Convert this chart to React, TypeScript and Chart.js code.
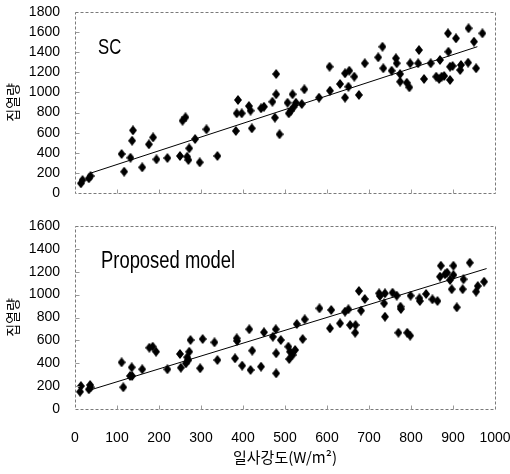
import React, { useEffect, useRef } from "react";
import { Chart, registerables } from "chart.js";

Chart.register(...registerables);

// ---------- data ----------
const xTickValues = [0, 100, 200, 300, 400, 500, 600, 700, 800, 900, 1000];

const scX = [14, 18, 33, 37, 111, 117, 132, 136, 138, 160, 176, 186, 194, 220, 250, 256, 263, 267, 272, 270, 286, 297, 313, 339, 383, 388, 385, 397, 414, 418, 421, 443, 450, 470, 476, 479, 479, 487, 506, 509, 514, 518, 521, 526, 540, 546, 581, 606, 607, 631, 643, 643, 653, 651, 665, 676, 690, 722, 732, 734, 754, 764, 766, 774, 774, 790, 796, 798, 817, 819, 831, 847, 860, 867, 873, 869, 879, 889, 888, 893, 893, 899, 907, 917, 919, 937, 936, 950, 955, 970];
const scY = [96, 129, 146, 169, 388, 212, 351, 520, 623, 255, 484, 553, 335, 348, 368, 719, 753, 361, 444, 328, 537, 305, 633, 368, 617, 925, 792, 792, 865, 819, 643, 842, 858, 908, 749, 1183, 982, 584, 898, 792, 819, 982, 858, 898, 885, 1031, 948, 1256, 1017, 1084, 1190, 948, 1216, 1057, 1157, 975, 1290, 1349, 1455, 1240, 1216, 1340, 1290, 1183, 1107, 1097, 1051, 1290, 1290, 1422, 1134, 1290, 1157, 1134, 1157, 1323, 1164, 1405, 1588, 1124, 1256, 1263, 1538, 1223, 1273, 1638, 1296, 1505, 1240, 1588];
const scTrendX = [36, 958];
const scTrendY = [196, 1455];

const pmX = [12, 14, 33, 36, 37, 111, 115, 131, 135, 136, 160, 177, 185, 193, 220, 250, 252, 264, 267, 272, 275, 270, 298, 304, 332, 339, 381, 385, 386, 398, 415, 418, 422, 443, 450, 471, 478, 479, 479, 490, 508, 512, 510, 518, 524, 528, 542, 547, 582, 607, 610, 631, 643, 651, 655, 668, 667, 676, 681, 690, 724, 726, 736, 738, 738, 756, 766, 770, 775, 776, 791, 798, 799, 820, 821, 836, 851, 863, 869, 871, 881, 886, 893, 897, 901, 901, 909, 923, 925, 940, 955, 959, 974];
const pmY = [151, 201, 172, 210, 190, 408, 190, 289, 364, 289, 347, 536, 545, 501, 347, 481, 361, 399, 452, 501, 603, 428, 356, 612, 583, 428, 443, 618, 595, 379, 697, 341, 510, 370, 671, 632, 697, 487, 312, 603, 545, 501, 437, 472, 516, 743, 612, 784, 880, 705, 866, 749, 851, 872, 734, 734, 667, 1032, 860, 962, 1011, 988, 924, 807, 1011, 1017, 991, 667, 895, 874, 667, 641, 991, 968, 944, 1006, 959, 944, 1157, 1253, 1178, 1192, 1128, 1047, 1253, 1172, 889, 1047, 1134, 1279, 1026, 1075, 1113];
const pmTrendX = [36, 980];
const pmTrendY = [166, 1228];

const scYMax = 1800;
const pmYMax = 1600;
const yStep = 200;
const scLabel = "SC";
const pmLabel = "Proposed model";
const yTitle = "집열량";
const xTitle = "일사강도(W/m²)";

// ---------- helpers ----------
function makeDiamond() {
  const c = document.createElement("canvas");
  c.width = 8;
  c.height = 10;
  const g = c.getContext("2d")!;
  g.fillStyle = "#000";
  g.beginPath();
  g.moveTo(4, 0);
  g.lineTo(8, 5);
  g.lineTo(4, 10);
  g.lineTo(0, 5);
  g.closePath();
  g.fill();
  return c;
}

const framePlugin = {
  id: "frame",
  afterDraw(chart: any, _args: any, opts: any) {
    const { ctx, chartArea: a, scales } = chart;
    ctx.save();
    const l = Math.round(a.left) + 0.5;
    const t = Math.round(a.top) + 0.5;
    const r = Math.round(a.right) + 0.5;
    const b = Math.round(a.bottom) + 0.5;
    ctx.strokeStyle = "#7a7a7a";
    ctx.lineWidth = 1;
    ctx.setLineDash([3, 2]);
    ctx.strokeRect(l, t, r - l, b - t);
    ctx.setLineDash([]);
    ctx.strokeStyle = "#9a9a9a";
    ctx.beginPath();
    for (const v of xTickValues) {
      if (v === 0 || v === 1000) continue;
      const px = Math.round(scales.x.getPixelForValue(v)) + 0.5;
      ctx.moveTo(px, b);
      ctx.lineTo(px, b - 4);
    }
    for (let v = yStep; v < opts.yMax; v += yStep) {
      const py = Math.round(scales.y.getPixelForValue(v)) + 0.5;
      ctx.moveTo(l, py);
      ctx.lineTo(l + 4, py);
    }
    ctx.stroke();
    // panel label
    ctx.fillStyle = "#000";
    ctx.font = `${opts.size}px "Liberation Sans", Arial, sans-serif`;
    ctx.textAlign = "left";
    ctx.textBaseline = "alphabetic";
    ctx.translate(opts.lx, opts.ly);
    ctx.scale(opts.sx, 1);
    ctx.fillText(opts.label, 0, 0);
    ctx.restore();
  },
};

function zeroPad(s: any) {
  s.paddingLeft = 0;
  s.paddingRight = 0;
  s.paddingTop = 0;
  s.paddingBottom = 0;
}

function buildConfig(
  xs: number[],
  ys: number[],
  tx: number[],
  ty: number[],
  yMax: number,
  showX: boolean,
  label: any
): any {
  const pts = xs.map((x, i) => ({ x, y: ys[i] }));
  const line = tx.map((x, i) => ({ x, y: ty[i] }));
  const tickFont = { family: '"Liberation Sans", Arial, sans-serif', size: 14 };
  return {
    type: "scatter",
    data: {
      datasets: [
        {
          data: pts,
          pointStyle: makeDiamond(),
          pointRadius: 5,
          backgroundColor: "#000",
          borderColor: "#000",
          order: 0,
        },
        {
          data: line,
          showLine: true,
          pointRadius: 0,
          borderColor: "#000",
          borderWidth: 1,
          order: 1,
        },
      ],
    },
    options: {
      animation: false,
      responsive: false,
      maintainAspectRatio: false,
      devicePixelRatio: 1,
      layout: showX
        ? { padding: { top: 16, right: 15, bottom: 0, left: 0 } }
        : { padding: { top: 12, right: 15, bottom: 12, left: 0 } },
      plugins: {
        legend: { display: false },
        tooltip: { enabled: false },
        frame: label,
      },
      scales: {
        x: {
          type: "linear",
          display: showX,
          min: 0,
          max: 1000,
          afterBuildTicks: (s: any) => {
            s.ticks = xTickValues.map((v) => ({ value: v }));
          },
          afterFit: (s: any) => {
            s.height = showX ? 65 : 0;
            zeroPad(s);
          },
          grid: { display: false, drawTicks: false },
          border: { display: false },
          ticks: {
            color: "#000",
            font: tickFont,
            padding: 21,
            autoSkip: false,
            maxRotation: 0,
            callback: (v: any) => String(v),
          },
          title: {
            display: true,
            text: xTitle,
            color: "#000",
            font: { family: '"Noto Sans CJK KR", sans-serif', size: 15 },
            padding: { top: 0, bottom: 8 },
          },
        },
        y: {
          type: "linear",
          min: 0,
          max: yMax,
          afterBuildTicks: (s: any) => {
            const t: any[] = [];
            for (let v = 0; v <= yMax; v += yStep) t.push({ value: v });
            s.ticks = t;
          },
          afterFit: (s: any) => {
            s.width = 75;
            zeroPad(s);
          },
          grid: { display: false, drawTicks: false },
          border: { display: false },
          ticks: {
            color: "#000",
            font: tickFont,
            padding: 15,
            autoSkip: false,
            callback: (v: any) => String(v),
          },
          title: {
            display: true,
            text: yTitle,
            color: "#000",
            font: { family: '"Noto Sans CJK KR", sans-serif', size: 14 },
            padding: { top: 4, bottom: 4 },
          },
        },
      },
    },
    plugins: [framePlugin],
  };
}

export default function App() {
  const topRef = useRef<HTMLCanvasElement | null>(null);
  const botRef = useRef<HTMLCanvasElement | null>(null);

  useEffect(() => {
    const c1 = new Chart(
      topRef.current!,
      buildConfig(scX, scY, scTrendX, scTrendY, scYMax, false, {
        label: scLabel,
        lx: 98,
        ly: 54,
        size: 22,
        sx: 0.76,
        yMax: scYMax,
      })
    );
    const c2 = new Chart(
      botRef.current!,
      buildConfig(pmX, pmY, pmTrendX, pmTrendY, pmYMax, true, {
        label: pmLabel,
        lx: 101,
        ly: 58,
        size: 23,
        sx: 0.8,
        yMax: pmYMax,
      })
    );
    return () => {
      c1.destroy();
      c2.destroy();
    };
  }, []);

  return (
    <div
      style={{
        position: "absolute",
        left: 0,
        top: 0,
        width: 510,
        height: 474,
        background: "#fff",
      }}
    >
      <canvas
        ref={topRef}
        width={510}
        height={205}
        style={{ position: "absolute", left: 0, top: 0, width: 510, height: 205 }}
      />
      <canvas
        ref={botRef}
        width={510}
        height={264}
        style={{ position: "absolute", left: 0, top: 210, width: 510, height: 264 }}
      />
    </div>
  );
}
